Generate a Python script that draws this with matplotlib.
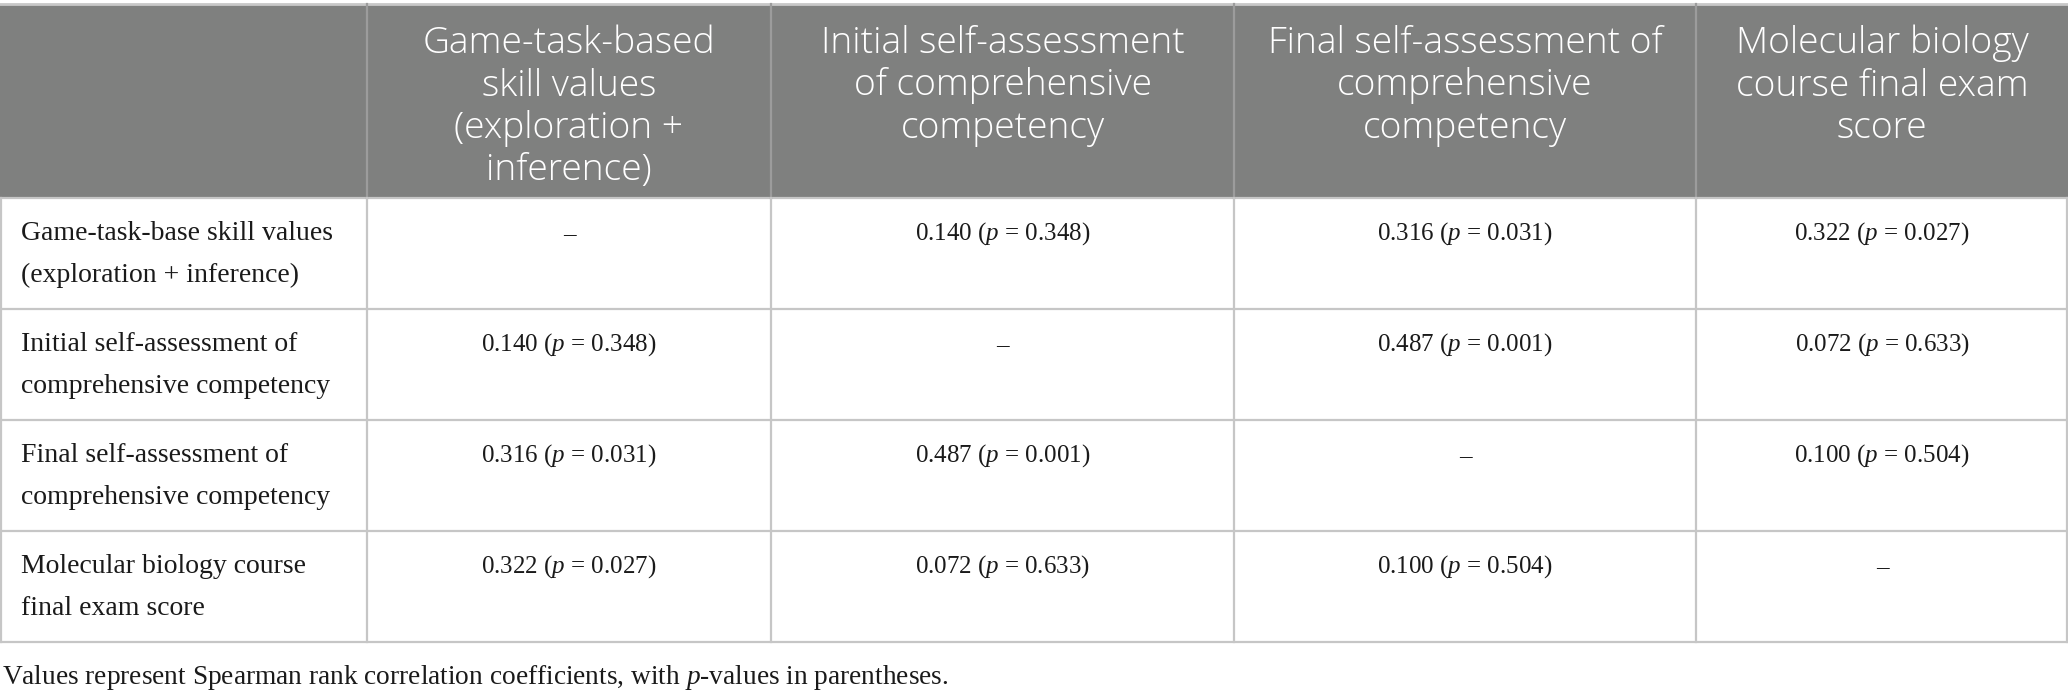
#!/usr/bin/env python3
"""Spearman correlation table between game skill, self-assessment and exam score."""

import sys

import matplotlib
matplotlib.use('Agg')
import matplotlib.pyplot as plt

# Data
row_labels = [
    'Game-task-base skill values\n(exploration + inference)',
    'Initial self-assessment of\ncomprehensive competency',
    'Final self-assessment of\ncomprehensive competency',
    'Molecular biology course\nfinal exam score',
]
col_labels = [
    'Game-task-based\nskill values\n(exploration +\ninference)',
    'Initial self-assessment\nof comprehensive\ncompetency',
    'Final self-assessment of\ncomprehensive\ncompetency',
    'Molecular biology\ncourse final exam\nscore',
]
rho = [
    [None, 0.140, 0.316, 0.322],
    [0.140, None, 0.487, 0.072],
    [0.316, 0.487, None, 0.100],
    [0.322, 0.072, 0.100, None],
]
pval = [
    [None, 0.348, 0.031, 0.027],
    [0.348, None, 0.001, 0.633],
    [0.031, 0.001, None, 0.504],
    [0.027, 0.633, 0.504, None],
]
caption = ('Values represent Spearman rank correlation coefficients, '
           'with $p$-values in parentheses.')

W, H = 2068, 696
col_x = [0, 367, 771, 1234, 1696, 2068]
row_y = [4, 198, 309, 420, 531, 642]

header_bg = '#7f807f'
grid_col = '#c6c6c6'
text_col = '#1a1a1a'
serif = 'Liberation Serif'
sans = 'Open Sans'


def main() -> int:
    """Draw the table."""
    plt.rcParams['mathtext.fontset'] = 'custom'
    plt.rcParams['mathtext.rm'] = serif
    plt.rcParams['mathtext.it'] = serif + ':italic'

    fig = plt.figure(figsize=(W / 100, H / 100), dpi=100)
    ax = fig.add_axes([0, 0, 1, 1])
    ax.set_xlim(0, W)
    ax.set_ylim(H, 0)
    ax.axis('off')

    # header band
    ax.add_patch(plt.Rectangle((col_x[0], row_y[0]), col_x[-1] - col_x[0],
                               row_y[1] - row_y[0], color=header_bg, lw=0))

    # grid lines
    ax.plot([col_x[0], col_x[-1]], [row_y[0], row_y[0]], color='#c8c8c8', lw=2)
    for y in row_y[1:]:
        ax.plot([col_x[0], col_x[-1]], [y, y], color=grid_col, lw=1.6)
    for x in col_x[1:-1]:
        ax.plot([x, x], [row_y[0], row_y[1]], color='#9c9c9c', lw=1.6)
        ax.plot([x, x], [row_y[1], row_y[-1]], color=grid_col, lw=1.6)
    ax.plot([1, 1], [row_y[1], row_y[-1]], color=grid_col, lw=1.6)
    ax.plot([W - 1, W - 1], [row_y[1], row_y[-1]], color=grid_col, lw=1.6)

    # header text, top aligned, one text per line
    for j, lab in enumerate(col_labels):
        cx = (col_x[j + 1] + col_x[j + 2]) / 2
        for k, line in enumerate(lab.split('\n')):
            ax.text(cx, 53 + 42.5 * k, line, ha='center', va='baseline',
                    color='white', fontsize=26.8, family=sans,
                    fontweight='light')

    # body
    for i, lab in enumerate(row_labels):
        top = row_y[i + 1]
        for k, line in enumerate(lab.split('\n')):
            ax.text(21, top + 42 + 42 * k, line, ha='left', va='baseline',
                    color=text_col, fontsize=20, family=serif)
        for j in range(len(col_labels)):
            cx = (col_x[j + 1] + col_x[j + 2]) / 2
            if rho[i][j] is None:
                s = '\u2013'
            else:
                s = f'{rho[i][j]:.3f} ($p$ = {pval[i][j]:.3f})'
            ax.text(cx, top + 42, s, ha='center', va='baseline',
                    color=text_col, fontsize=18, family=serif)

    ax.text(2, 684, caption, ha='left', va='baseline', color=text_col,
            fontsize=19.7, family=serif)

    fig.savefig('out.png', dpi=100)
    return 0


if __name__ == '__main__':
    sys.exit(main())
